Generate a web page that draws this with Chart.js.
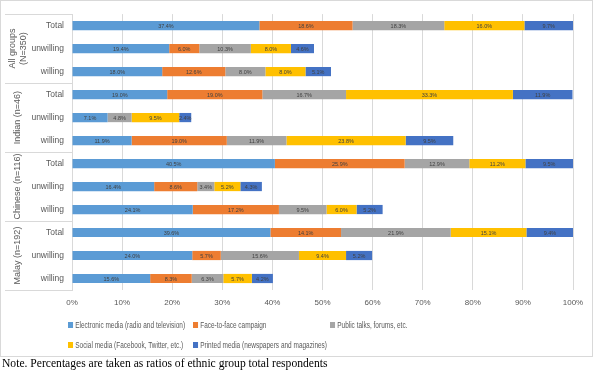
<!DOCTYPE html>
<html lang="en">
<head>
    <meta charset="UTF-8">
    <title>Information sources by ethnic group</title>
    <script src="https://cdn.jsdelivr.net/npm/chart.js"></script>
    <style>
        body {
            margin: 0;
            background: #fff;
            font-family: 'Liberation Sans', Arial, sans-serif;
        }
        .frame {
            position: absolute;
            left: 0;
            top: 0;
            width: 591px;
            height: 355px;
            border: 1px solid #d9d9d9;
        }
        .legend-item {
            position: absolute;
            font-size: 9px;
            color: #595959;
            white-space: nowrap;
            line-height: 10px;
            transform: scaleX(0.72);
            transform-origin: left center;
        }
        .legend-item span {
            display: inline-block;
            width: 7px;
            height: 6px;
            margin-right: 3px;
        }
        .note {
            position: absolute;
            left: 2px;
            top: 357px;
            font-family: 'Liberation Serif', 'DejaVu Serif', serif;
            font-size: 11.6px;
            color: #000;
        }
    </style>
</head>
<body>
    <div class="frame">
        <canvas id="barChart" width="591" height="355"></canvas>
    </div>
    <div id="legend"></div>
    <div class="note">Note. Percentages are taken as ratios of ethnic group total respondents</div>

    <script>
        let rowLabels = ['Total', 'unwilling', 'willing', 'Total', 'unwilling', 'willing',
                         'Total', 'unwilling', 'willing', 'Total', 'unwilling', 'willing'];
        let groupLabels = [['All groups', '(N=350)'], ['Indian (n=46)'], ['Chinese (n=116)'], ['Malay (n=192)']];
        let xTicks = [0, 10, 20, 30, 40, 50, 60, 70, 80, 90, 100];

        // percent of respondents, rows in the same order as rowLabels
        let electronic  = [37.4, 19.4, 18.0, 19.0, 7.1, 11.9, 40.5, 16.4, 24.1, 39.6, 24.0, 15.6];
        let faceToFace  = [18.6, 6.0, 12.6, 19.0, 0, 19.0, 25.9, 8.6, 17.2, 14.1, 5.7, 8.3];
        let publicTalks = [18.3, 10.3, 8.0, 16.7, 4.8, 11.9, 12.9, 3.4, 9.5, 21.9, 15.6, 6.3];
        let socialMedia = [16.0, 8.0, 8.0, 33.3, 9.5, 23.8, 11.2, 5.2, 6.0, 15.1, 9.4, 5.7];
        let printed     = [9.7, 4.6, 5.1, 11.9, 2.4, 9.5, 9.5, 4.3, 5.2, 9.4, 5.2, 4.2];

        let seriesNames = ['Electronic media (radio and television)', 'Face-to-face campaign',
                           'Public talks, forums, etc.', 'Social media  (Facebook, Twitter, etc.)',
                           'Printed media (newspapers and magazines)'];
        let seriesColors = ['#5B9BD5', '#ED7D31', '#A5A5A5', '#FFC000', '#4472C4'];
        let seriesData = [electronic, faceToFace, publicTalks, socialMedia, printed];

        let textFont = "'Liberation Sans', Arial, sans-serif";

        // value labels in the middle of each segment
        let barLabels = {
            id: 'barLabels',
            afterDatasetsDraw(chart) {
                let ctx = chart.ctx;
                ctx.save();
                ctx.font = '5.5px ' + textFont;
                ctx.fillStyle = '#404040';
                ctx.textAlign = 'center';
                ctx.textBaseline = 'middle';
                chart.data.datasets.forEach((ds, i) => {
                    chart.getDatasetMeta(i).data.forEach((bar, j) => {
                        if (!ds.data[j]) return;
                        let p = bar.getCenterPoint();
                        ctx.fillText(ds.data[j].toFixed(1) + '%', p.x, p.y + 0.5);
                    });
                });
                ctx.restore();
            }
        };

        // group labels and separators left of the axis
        let groupAxis = {
            id: 'groupAxis',
            afterDraw(chart) {
                let ctx = chart.ctx;
                let y = chart.scales.y;
                let area = chart.chartArea;
                let step = y.getPixelForValue(1) - y.getPixelForValue(0);
                ctx.save();
                ctx.strokeStyle = '#d9d9d9';
                ctx.lineWidth = 1;
                for (let g = 0; g <= groupLabels.length; g++) {
                    let yy = Math.round(y.getPixelForValue(g * 3) - step / 2) + 0.5;
                    ctx.beginPath();
                    ctx.moveTo(4, yy);
                    ctx.lineTo(area.left, yy);
                    ctx.stroke();
                }
                ctx.font = '9px ' + textFont;
                ctx.fillStyle = '#595959';
                ctx.textAlign = 'center';
                ctx.textBaseline = 'middle';
                groupLabels.forEach((lines, g) => {
                    let cy = y.getPixelForValue(g * 3 + 1);
                    ctx.save();
                    ctx.translate(17, cy);
                    ctx.rotate(-Math.PI / 2);
                    lines.forEach((t, k) => {
                        ctx.fillText(t, 0, (k - (lines.length - 1) / 2) * 10.5);
                    });
                    ctx.restore();
                });
                ctx.restore();
            }
        };

        let barCtx = document.getElementById('barChart').getContext('2d');
        let barChartInstance = new Chart(barCtx, {
            type: 'bar',
            data: {
                labels: rowLabels,
                datasets: seriesData.map((d, i) => ({
                    label: seriesNames[i],
                    data: d,
                    backgroundColor: seriesColors[i],
                    barPercentage: 0.4,
                    categoryPercentage: 1
                }))
            },
            options: {
                indexAxis: 'y',
                responsive: false,
                animation: false,
                layout: {
                    padding: { top: 11, right: 19, bottom: 0, left: 0 }
                },
                plugins: {
                    legend: { display: false },
                    tooltip: { enabled: false }
                },
                scales: {
                    x: {
                        stacked: true,
                        min: 0,
                        max: 100,
                        afterBuildTicks: scale => {
                            scale.ticks = xTicks.map(v => ({ value: v }));
                        },
                        afterFit: scale => { scale.height = 66; },
                        grid: { color: '#d9d9d9', drawTicks: false },
                        border: { display: false },
                        ticks: {
                            padding: 8,
                            color: '#595959',
                            font: { size: 8, family: textFont },
                            callback: v => v + '%'
                        }
                    },
                    y: {
                        stacked: true,
                        afterFit: scale => { scale.width = 71; },
                        grid: { display: false, drawTicks: false },
                        border: { display: true, color: '#d9d9d9' },
                        ticks: {
                            padding: 8,
                            color: '#595959',
                            font: { size: 8.5, family: textFont }
                        }
                    }
                }
            },
            plugins: [barLabels, groupAxis]
        });

        // legend in two rows like the original
        let legendPos = [[68, 320], [193, 320], [330, 320], [68, 340], [193, 340]];
        let legend = document.getElementById('legend');
        barChartInstance.data.datasets.forEach((ds, i) => {
            let item = document.createElement('div');
            item.className = 'legend-item';
            item.style.left = legendPos[i][0] + 'px';
            item.style.top = legendPos[i][1] + 'px';
            item.innerHTML = `<span style="background:${ds.backgroundColor}"></span>${ds.label}`;
            legend.appendChild(item);
        });
    </script>
</body>
</html>
